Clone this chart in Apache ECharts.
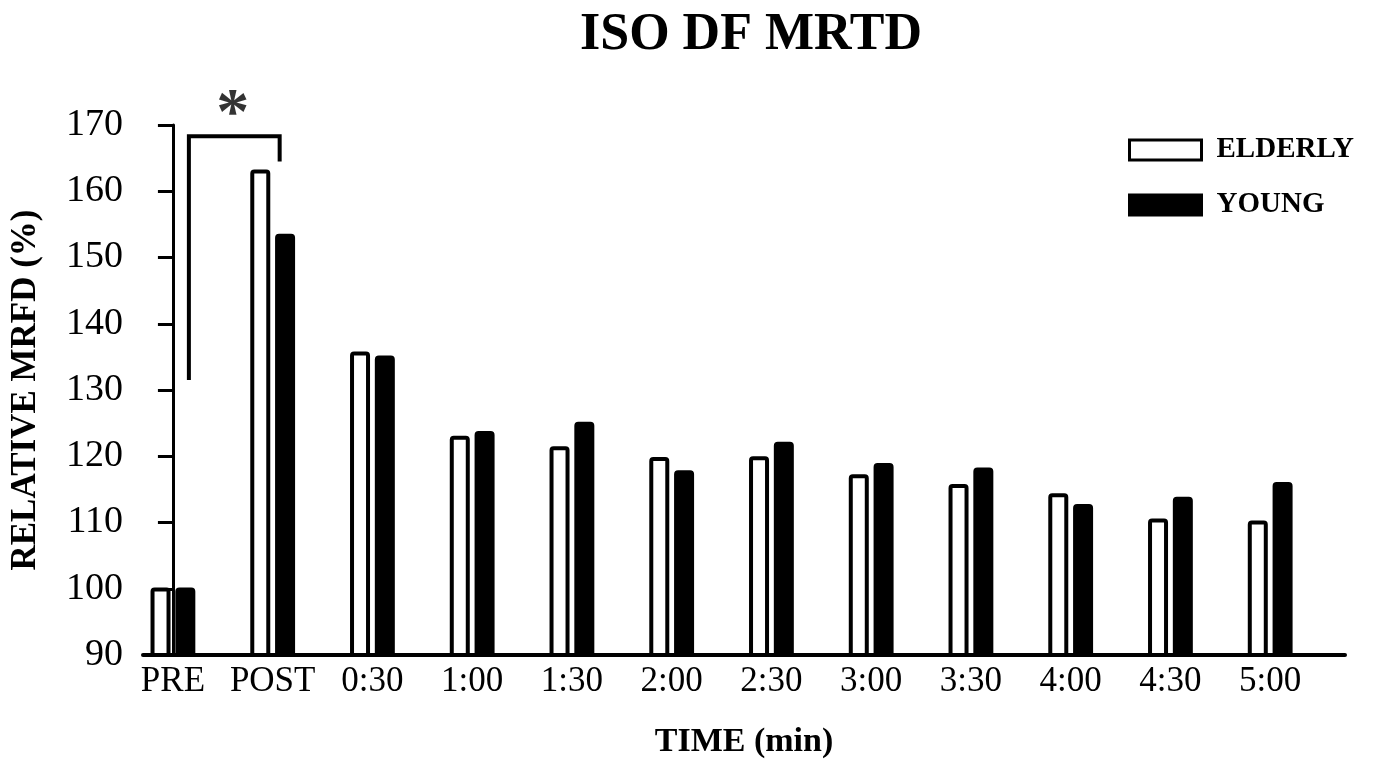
<!DOCTYPE html>
<html>
<head>
<meta charset="utf-8">
<title>ISO DF MRTD</title>
<script src="https://cdn.jsdelivr.net/npm/echarts@6/dist/echarts.min.js"></script>
<style>
  html, body { margin: 0; padding: 0; background: #fff; }
  #chart { width: 1379px; height: 769px; }
</style>
</head>
<body>
<div id="chart"></div>
<script>
// Time points after the contraction protocol
const categories = ['PRE', 'POST', '0:30', '1:00', '1:30', '2:00', '2:30', '3:00', '3:30', '4:00', '4:30', '5:00'];
// Relative MRFD (%) per group
const elderly = [100.2, 163.3, 135.8, 123.1, 121.5, 119.9, 120, 117.3, 115.8, 114.4, 110.6, 110.3];
const young   = [100.2, 153.6, 135.2, 123.8, 125.2, 117.9, 122.2, 119, 118.3, 112.8, 113.9, 116.1];
// Significance bracket between PRE and POST (category index, value)
const bracket = [[0.16, 131.8], [0.16, 168.3], [1.07, 168.3], [1.07, 164.8]];
const starPoint = [[0.6, 171.4]];
const yTicks = { min: 90, max: 170, step: 10 };

const serif = '"Liberation Serif", "Times New Roman", serif';
const idx = categories.map((_, i) => i);

const chart = echarts.init(document.getElementById('chart'), null, { renderer: 'canvas' });

chart.setOption({
  backgroundColor: '#ffffff',
  animation: false,
  title: {
    text: 'ISO DF MRTD',
    left: 746,
    textAlign: 'center',
    top: 5,
    textStyle: { fontFamily: serif, fontWeight: 'bold', fontSize: 52, color: '#000' }
  },
  legend: {
    data: ['ELDERLY', 'YOUNG'],
    orient: 'vertical',
    left: 1123,
    top: 130,
    icon: 'rect',
    itemWidth: 72,
    itemHeight: 20,
    itemGap: 25,
    itemStyle: { borderWidth: 3 },
    textStyle: { fontFamily: serif, fontWeight: 'bold', fontSize: 29, color: '#000', lineHeight: 30, padding: [0, 0, 0, 10] }
  },
  grid: { left: 143, right: 34, top: 125, bottom: 114, containLabel: false },
  xAxis: {
    type: 'value',
    min: -0.3,
    max: 11.75,
    name: 'TIME (min)',
    nameLocation: 'middle',
    nameGap: 70,
    nameTextStyle: { fontFamily: serif, fontWeight: 'bold', fontSize: 34, color: '#000' },
    splitLine: { show: false },
    axisTick: { show: false },
    axisLine: { show: true, onZero: false, lineStyle: { color: '#000', width: 4 } },
    axisLabel: {
      customValues: idx,
      formatter: v => categories[Math.round(v)],
      fontFamily: serif,
      fontSize: 35,
      color: '#000',
      margin: 9
    }
  },
  yAxis: {
    type: 'value',
    min: yTicks.min,
    max: yTicks.max,
    interval: yTicks.step,
    name: 'RELATIVE MRFD (%)',
    nameLocation: 'middle',
    nameGap: 100,
    nameTextStyle: { fontFamily: serif, fontWeight: 'bold', fontSize: 35, color: '#000' },
    splitLine: { show: false },
    axisLine: { show: true, lineStyle: { color: '#000', width: 3 } },
    axisTick: { show: true, length: 15, lineStyle: { color: '#000', width: 3 } },
    axisLabel: { fontFamily: serif, fontSize: 38, color: '#000', margin: 20 }
  },
  series: [
    {
      name: 'ELDERLY',
      type: 'bar',
      data: elderly.map((v, i) => [i, v]),
      barWidth: 20,
      barGap: '24%',
      itemStyle: { color: '#ffffff', borderColor: '#000', borderWidth: 4, borderRadius: [2, 2, 0, 0] },
      z: 2
    },
    {
      name: 'YOUNG',
      type: 'bar',
      data: young.map((v, i) => [i, v]),
      barWidth: 20,
      barGap: '24%',
      itemStyle: { color: '#000', borderColor: '#000', borderWidth: 4, borderRadius: [2, 2, 0, 0] },
      z: 2
    },
    {
      name: 'bracket',
      type: 'line',
      data: bracket,
      symbol: 'none',
      clip: false,
      lineStyle: { color: '#000', width: 4, cap: 'square', join: 'miter' },
      z: 3
    },
    {
      name: 'significance',
      type: 'scatter',
      data: starPoint,
      symbolSize: 1,
      itemStyle: { color: 'rgba(0,0,0,0)' },
      clip: false,
      label: {
        show: true,
        position: 'inside',
        formatter: '*',
        fontFamily: serif,
        fontWeight: 'bold',
        fontSize: 66,
        color: '#000'
      },
      z: 3
    }
  ]
});
</script>
</body>
</html>
